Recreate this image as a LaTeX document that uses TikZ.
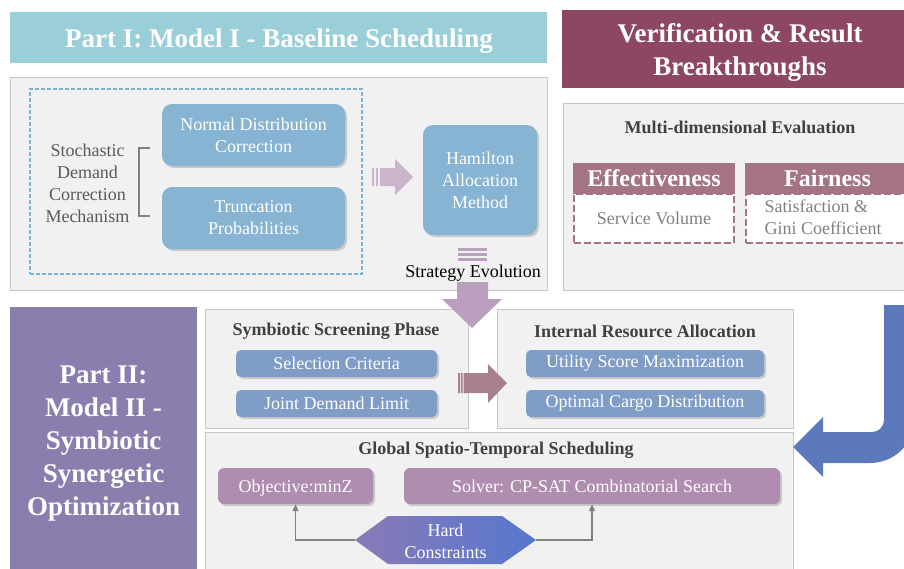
\documentclass[tikz,border=0pt]{standalone}
\usepackage{fontspec}
\setmainfont{Liberation Serif}
\usetikzlibrary{shadows,arrows.meta,positioning}

\definecolor{hdrteal}{HTML}{9ACED9}
\definecolor{hdrwine}{HTML}{8D4762}
\definecolor{panelbg}{HTML}{F1F1F1}
\definecolor{panelline}{HTML}{C6C6C6}
\definecolor{boxblue}{HTML}{86B4D2}
\definecolor{dashblue}{HTML}{7AB3D6}
\definecolor{palearrow}{HTML}{CBB5CD}
\definecolor{evoarrow}{HTML}{BB9FBF}
\definecolor{evalrose}{HTML}{A47482}
\definecolor{partii}{HTML}{8A7EAE}
\definecolor{slateblue}{HTML}{809DC8}
\definecolor{midarrow}{HTML}{A97F8C}
\definecolor{plumbox}{HTML}{AF8DAF}
\definecolor{bigblue}{HTML}{5B79BB}
\definecolor{hexleft}{HTML}{8A7AB7}
\definecolor{hexright}{HTML}{5577CE}
\definecolor{txtgray}{HTML}{5A5A5A}
\definecolor{ttlgray}{HTML}{404040}

\begin{document}
\begin{tikzpicture}[x=1pt, y=-1pt,
    hdr/.style={text=white, font=\fontsize{27}{33}\selectfont\bfseries, align=center, inner sep=0},
    panel/.style={draw=panelline, fill=panelbg, line width=0.8pt, inner sep=0},
    ttl/.style={text=ttlgray, font=\fontsize{18}{22}\selectfont\bfseries},
    txt/.style={font=\fontsize{18}{22}\selectfont, align=center},
    softshadow/.style={drop shadow={opacity=0.35, shadow xshift=2pt, shadow yshift=-2pt}},
    bluebox/.style={txt, fill=boxblue, text=white, rounded corners=10pt, inner sep=0, softshadow},
    slatebox/.style={txt, fill=slateblue, text=white, rounded corners=5pt, inner sep=0, softshadow},
    plumbx/.style={txt, fill=plumbox, text=white, rounded corners=6pt, inner sep=0, softshadow, text height=13pt, text depth=1pt},
    evalhead/.style={fill=evalrose, text=white, font=\fontsize{24}{28}\selectfont\bfseries, inner sep=0},
    evalbody/.style={draw=evalrose, fill=white, line width=2.5pt, dash pattern=on 7pt off 3pt, inner sep=0, txt, text=gray},
    conn/.style={draw=gray, line width=1.2pt, -{Triangle[length=7pt, width=6pt]}}
]
\useasboundingbox (0,0) rectangle (904,568);
\clip (0,0) rectangle (904,568);

% Headers
\node[fill=hdrteal, minimum width=537, minimum height=51] (hdr1) at (278.5,37.5) {};
\node[hdr] (hdr1t) at (279,41) {Part I: Model I - Baseline Scheduling};
\node[fill=hdrwine, minimum width=344, minimum height=78] (hdr2) at (734,49) {};
\node[hdr] (hdr2t) at (740,52) {Verification \& Result\\Breakthroughs};

% Part I
\node[panel, minimum width=537, minimum height=213] (p1) at (278.5,183.5) {};
\node[draw=dashblue, dashed, line width=1.2pt, dash pattern=on 4pt off 2pt, minimum width=332, minimum height=185] (dz) at (196,181.5) {};
\node[txt, text=txtgray] (sd) at (87.5,183) {Stochastic\\Demand\\Correction\\Mechanism};
\draw[gray, line width=2pt] (150,148) -| (139,216) -- (150,216);
\node[bluebox, minimum width=183, minimum height=62] (nd) at (253.5,135) {Normal Distribution\\Correction};
\node[bluebox, minimum width=183, minimum height=62] (tp) at (253.5,218) {Truncation\\Probabilities};
\node[bluebox, minimum width=114, minimum height=110] (ham) at (480,180) {Hamilton\\Allocation\\Method};
\fill[palearrow] (372,168) rectangle (374,186) (376,168) rectangle (378,186);
\fill[palearrow] (380,168) -- (395,168) -- (395,159) -- (413,177) -- (395,195) -- (395,186) -- (380,186) -- cycle;
\foreach \y in {248,253,258}
    \fill[evoarrow] (458,\y) rectangle (487,\y+2.5);
\node[txt, anchor=base] (se) at (473,277) {Strategy Evolution};

% Verification
\node[panel, minimum width=343, minimum height=187] (p3) at (734.5,196.5) {};
\node[ttl] (me) at (740,127) {Multi-dimensional Evaluation};
\node[evalbody, minimum width=160, minimum height=49] (ef) at (654,218.5) {Service Volume};
\node[evalhead, minimum width=162, minimum height=31] (efh) at (654,178.5) {Effectiveness};
\node[evalbody, minimum width=163, minimum height=49] (fa) at (827.5,218.5) {};
\node[evalhead, minimum width=165, minimum height=31] (fah) at (827.5,178.5) {Fairness};
\node[txt, text=gray, align=left, anchor=west] (ft) at (761,217.5) {Satisfaction \&\\Gini Coefficient};

% Part II
\node[fill=partii, minimum width=187, minimum height=262] (p2) at (103.5,438) {};
\node[hdr] (p2t) at (103.5,444) {Part II:\\Model II -\\Symbiotic\\Synergetic\\Optimization};
\node[panel, minimum width=263, minimum height=119] (sp) at (336.5,368.5) {};
\node[ttl] (spt) at (336,331) {Symbiotic Screening Phase};
\node[slatebox, minimum width=201, minimum height=27] (sc) at (336.5,363.5) {Selection Criteria};
\node[slatebox, minimum width=201, minimum height=27] (jd) at (336.5,403.5) {Joint Demand Limit};
\node[panel, minimum width=296, minimum height=119] (ra) at (645,368.5) {};
\node[ttl] (rat) at (645,331) {Internal Resource Allocation};
\node[slatebox, minimum width=238, minimum height=27] (us) at (645,363.5) {Utility Score Maximization};
\node[slatebox, minimum width=238, minimum height=27] (oc) at (645,403.5) {Optimal Cargo Distribution};
\fill[midarrow] (458,373) rectangle (460,393) (461,373) rectangle (462.5,393);
\fill[midarrow] (463.5,373) -- (488,373) -- (488,364) -- (507,383) -- (488,403) -- (488,393) -- (463.5,393) -- cycle;

% Global scheduling
\node[panel, minimum width=588, minimum height=140] (gs) at (499,502) {};
\node[ttl] (gst) at (496,450) {Global Spatio-Temporal Scheduling};
\node[plumbx, minimum width=155, minimum height=36] (obj) at (295.5,486) {Objective:minZ};
\node[plumbx, minimum width=376, minimum height=36] (sol) at (592,486) {Solver: CP-SAT Combinatorial Search};
\shade[left color=hexleft, right color=hexright] (355,540) -- (388,516) -- (502,516) -- (536,540) -- (502,564) -- (388,564) -- cycle;
\node[txt, text=white] (hc) at (445.5,541) {Hard\\Constraints};
\coordinate (hcL) at (355,540);
\coordinate (hcR) at (536,540);
\draw[conn] (hcL) -| (obj);
\draw[conn] (hcR) -| (sol);

% Flow arrows
\fill[evoarrow] (457,282) -- (488,282) -- (488,299) -- (502,299) -- (472,328) -- (442,299) -- (457,299) -- cycle;
\fill[bigblue] (884,305) -- (884,420) arc[start angle=0, end angle=90, radius=12] -- (823,432) -- (823,417) -- (793,447) -- (823,477) -- (823,463) -- (870,463) arc[start angle=90, end angle=0, radius=45] -- (915,305) -- cycle;
\end{tikzpicture}
\end{document}
